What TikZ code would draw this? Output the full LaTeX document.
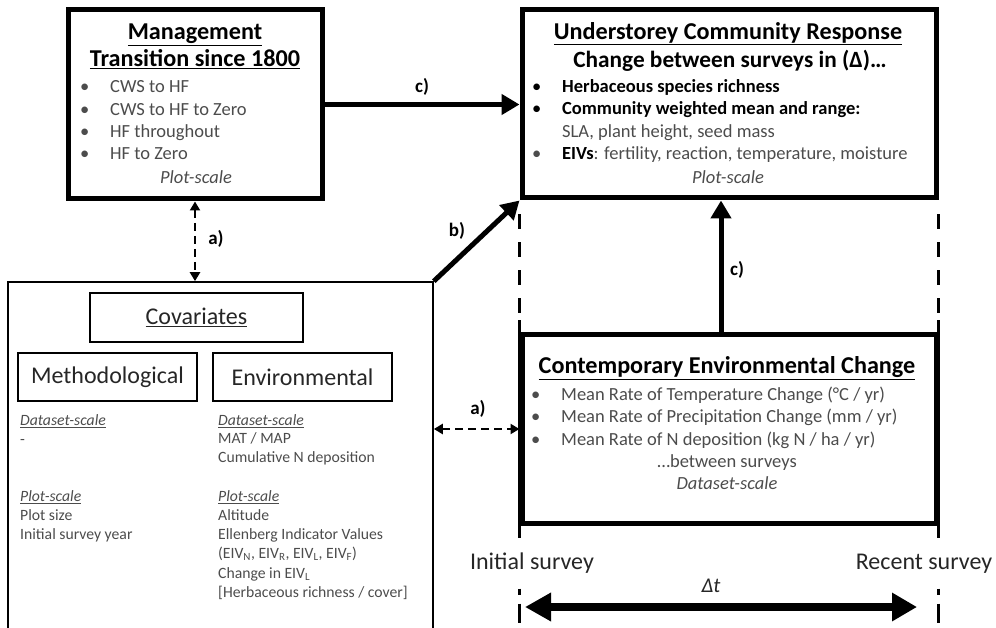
\documentclass[tikz,border=0pt]{standalone}
\usepackage{fontspec}
\setmainfont{Carlito}
\usepackage{tikz}
\usetikzlibrary{arrows.meta}
\newcommand{\blt}{\makebox[30pt][l]{\textbullet}}

\begin{document}
\begin{tikzpicture}[x=1pt,y=-1pt,
    box/.style={draw,line width=5pt,inner sep=0pt},
    thinbox/.style={draw,line width=1.6pt,inner sep=0pt},
    subbox/.style={draw,line width=2.6pt,inner sep=0pt,text=black!85,
      font=\fontsize{24}{28}\selectfont},
    head/.style={inner sep=0pt,anchor=mid,font=\bfseries\fontsize{24.2}{28}\selectfont},
    item/.style={inner sep=0pt,anchor=mid west,text=black!70,
      font=\fontsize{18.5}{22}\selectfont},
    note/.style={inner sep=0pt,anchor=mid,text=black!70,
      font=\itshape\fontsize{18.5}{22}\selectfont},
    small/.style={inner sep=0pt,anchor=mid west,text=black!70,
      font=\fontsize{15.7}{19}\selectfont},
    surv/.style={inner sep=0pt,anchor=mid,text=black!85,font=\fontsize{24}{28}\selectfont},
    lbl/.style={inner sep=0pt,anchor=mid,font=\bfseries\fontsize{19}{22}\selectfont},
    link/.style={line width=5pt,-{Triangle[length=18pt,width=20pt]}},
    assoc/.style={line width=2.6pt,dash pattern=on 8pt off 5pt,
      {Triangle[length=9pt,width=10pt]}-{Triangle[length=9pt,width=10pt]}},
    guide/.style={line width=3pt,dash pattern=on 15pt off 13pt},
    span/.style={line width=8pt,
      {Triangle[length=26pt,width=27pt]}-{Triangle[length=25pt,width=27pt]}}]
  \useasboundingbox (0,0) rectangle (996,628);

  % management
  \node[box,minimum width=254pt,minimum height=189pt] (mgmt) at (195,104.5) {};
  \node[head] (mgmt1) at (195,37) {\underline{Management}};
  \node[head] (mgmt2) at (195,64) {\underline{Transition since 1800}};
  \node[item] (m1) at (80,90)  {\blt CWS to HF};
  \node[item] (m2) at (80,113) {\blt CWS to HF to Zero};
  \node[item] (m3) at (80,135) {\blt HF throughout};
  \node[item] (m4) at (80,157) {\blt HF to Zero};
  \node[note] (mgmtscale) at (196,181) {Plot-scale};

  % understorey response
  \node[box,minimum width=414pt,minimum height=188pt] (under) at (729,104) {};
  \node[head] (under1) at (728,37) {\underline{Understorey Community Response}};
  \node[head,font=\bfseries\fontsize{23.3}{27}\selectfont] (under2) at (730,65)
    {Change between surveys in (Δ)\ldots};
  \node[item,text=black] (u1) at (532,90)  {\blt\textbf{Herbaceous species richness}};
  \node[item,text=black] (u2) at (532,112) {\blt\textbf{Community weighted mean and range:}};
  \node[item] (u3) at (562,135) {SLA, plant height, seed mass};
  \node[item] (u4) at (532,157)
    {\blt\textbf{\color{black}EIVs}: fertility, reaction, temperature, moisture};
  \node[note] (underscale) at (728,181) {Plot-scale};

  % contemporary change
  \node[box,minimum width=414pt,minimum height=188pt] (cont) at (729,429) {};
  \node[head] (cont1) at (727,371) {\underline{Contemporary Environmental Change}};
  \node[item] (c1) at (531,398) {\blt Mean Rate of Temperature Change (°C / yr)};
  \node[item] (c2) at (531,420) {\blt Mean Rate of Precipitation Change (mm / yr)};
  \node[item] (c3) at (531,443) {\blt Mean Rate of N deposition (kg N / ha / yr)};
  \node[item,anchor=mid] (c4) at (727,465) {\ldots between surveys};
  \node[note] (contscale) at (727,487) {Dataset-scale};

  % covariates
  \node[thinbox,minimum width=425pt,minimum height=368pt] (cov) at (220.5,466) {};
  \node[subbox,minimum width=213pt,minimum height=49pt] (covtitle) at (196.5,317.5)
    {\underline{Covariates}};
  \node[subbox,minimum width=179pt,minimum height=48pt] (meth) at (107.5,377) {Methodological};
  \node[subbox,minimum width=179pt,minimum height=48pt] (env) at (302.5,377) {Environmental};
  \node[small] (md) at (20,423) {\underline{\textit{Dataset-scale}}};
  \node[small] (md1) at (20,442) {-};
  \node[small] (mp) at (20,499) {\underline{\textit{Plot-scale}}};
  \node[small] (mp1) at (20,518) {Plot size};
  \node[small] (mp2) at (20,537) {Initial survey year};
  \node[small] (ed) at (218,423) {\underline{\textit{Dataset-scale}}};
  \node[small] (ed1) at (218,441) {MAT / MAP};
  \node[small] (ed2) at (218,460) {Cumulative N deposition};
  \node[small] (ep) at (218,499) {\underline{\textit{Plot-scale}}};
  \node[small] (ep1) at (218,518) {Altitude};
  \node[small] (ep2) at (218,537) {Ellenberg Indicator Values};
  \node[small] (ep3) at (218,556) {(EIV\textsubscript{N}, EIV\textsubscript{R}, EIV\textsubscript{L}, EIV\textsubscript{F})};
  \node[small] (ep4) at (218,576) {Change in EIV\textsubscript{L}};
  \node[small] (ep5) at (218,595) {[Herbaceous richness / cover]};

  % time axis
  \node[surv] (initial) at (532,567) {Initial survey};
  \node[surv] (recent) at (924,567) {Recent survey};
  \node[surv,font=\itshape\fontsize{21}{24}\selectfont] (dt) at (711,590) {Δt};
  \coordinate (t0) at (525,607);
  \coordinate (t1) at (917,607);

  % connectors
  \draw[link] (mgmt.east) -- (mgmt.east -| under.west);
  \draw[link] ([xshift=-8pt]cont.north) -- ([xshift=-8pt]cont.north |- under.south);
  \draw[link] (cov.north east) -- (under.south west);
  \draw[assoc] (mgmt.south) -- (mgmt.south |- cov.north);
  \draw[assoc] (cont.west -| cov.east) -- (cont.west);
  \node[lbl] (lc1) at (422,90) {c)};
  \node[lbl] (lc2) at (737,273) {c)};
  \node[lbl] (lb) at (457,234) {b)};
  \node[lbl] (la1) at (216,242) {a)};
  \node[lbl] (la2) at (478,412) {a)};

  % survey guides
  \draw[guide] ([yshift=-14pt]under.south west) -- ([yshift=12pt]cont.north west);
  \draw[guide] ([yshift=-14pt]under.south east) -- ([yshift=12pt]cont.north east);
  \draw[line width=3pt] ([yshift=12pt]cont.north west) -- ([yshift=-12pt]cont.south west);
  \draw[line width=3pt] ([yshift=12pt]cont.north east) -- ([yshift=-12pt]cont.south east);
  \draw[line width=3pt,dash pattern=on 6pt off 9pt on 19pt off 20pt]
    ([yshift=-63pt]cont.south west) -- ([yshift=-98pt]cont.south west);
  \draw[line width=3pt,dash pattern=on 6pt off 9pt on 19pt off 20pt]
    ([yshift=-63pt]cont.south east) -- ([yshift=-98pt]cont.south east);
  \draw[span] (t0) -- (t1);
\end{tikzpicture}
\end{document}
